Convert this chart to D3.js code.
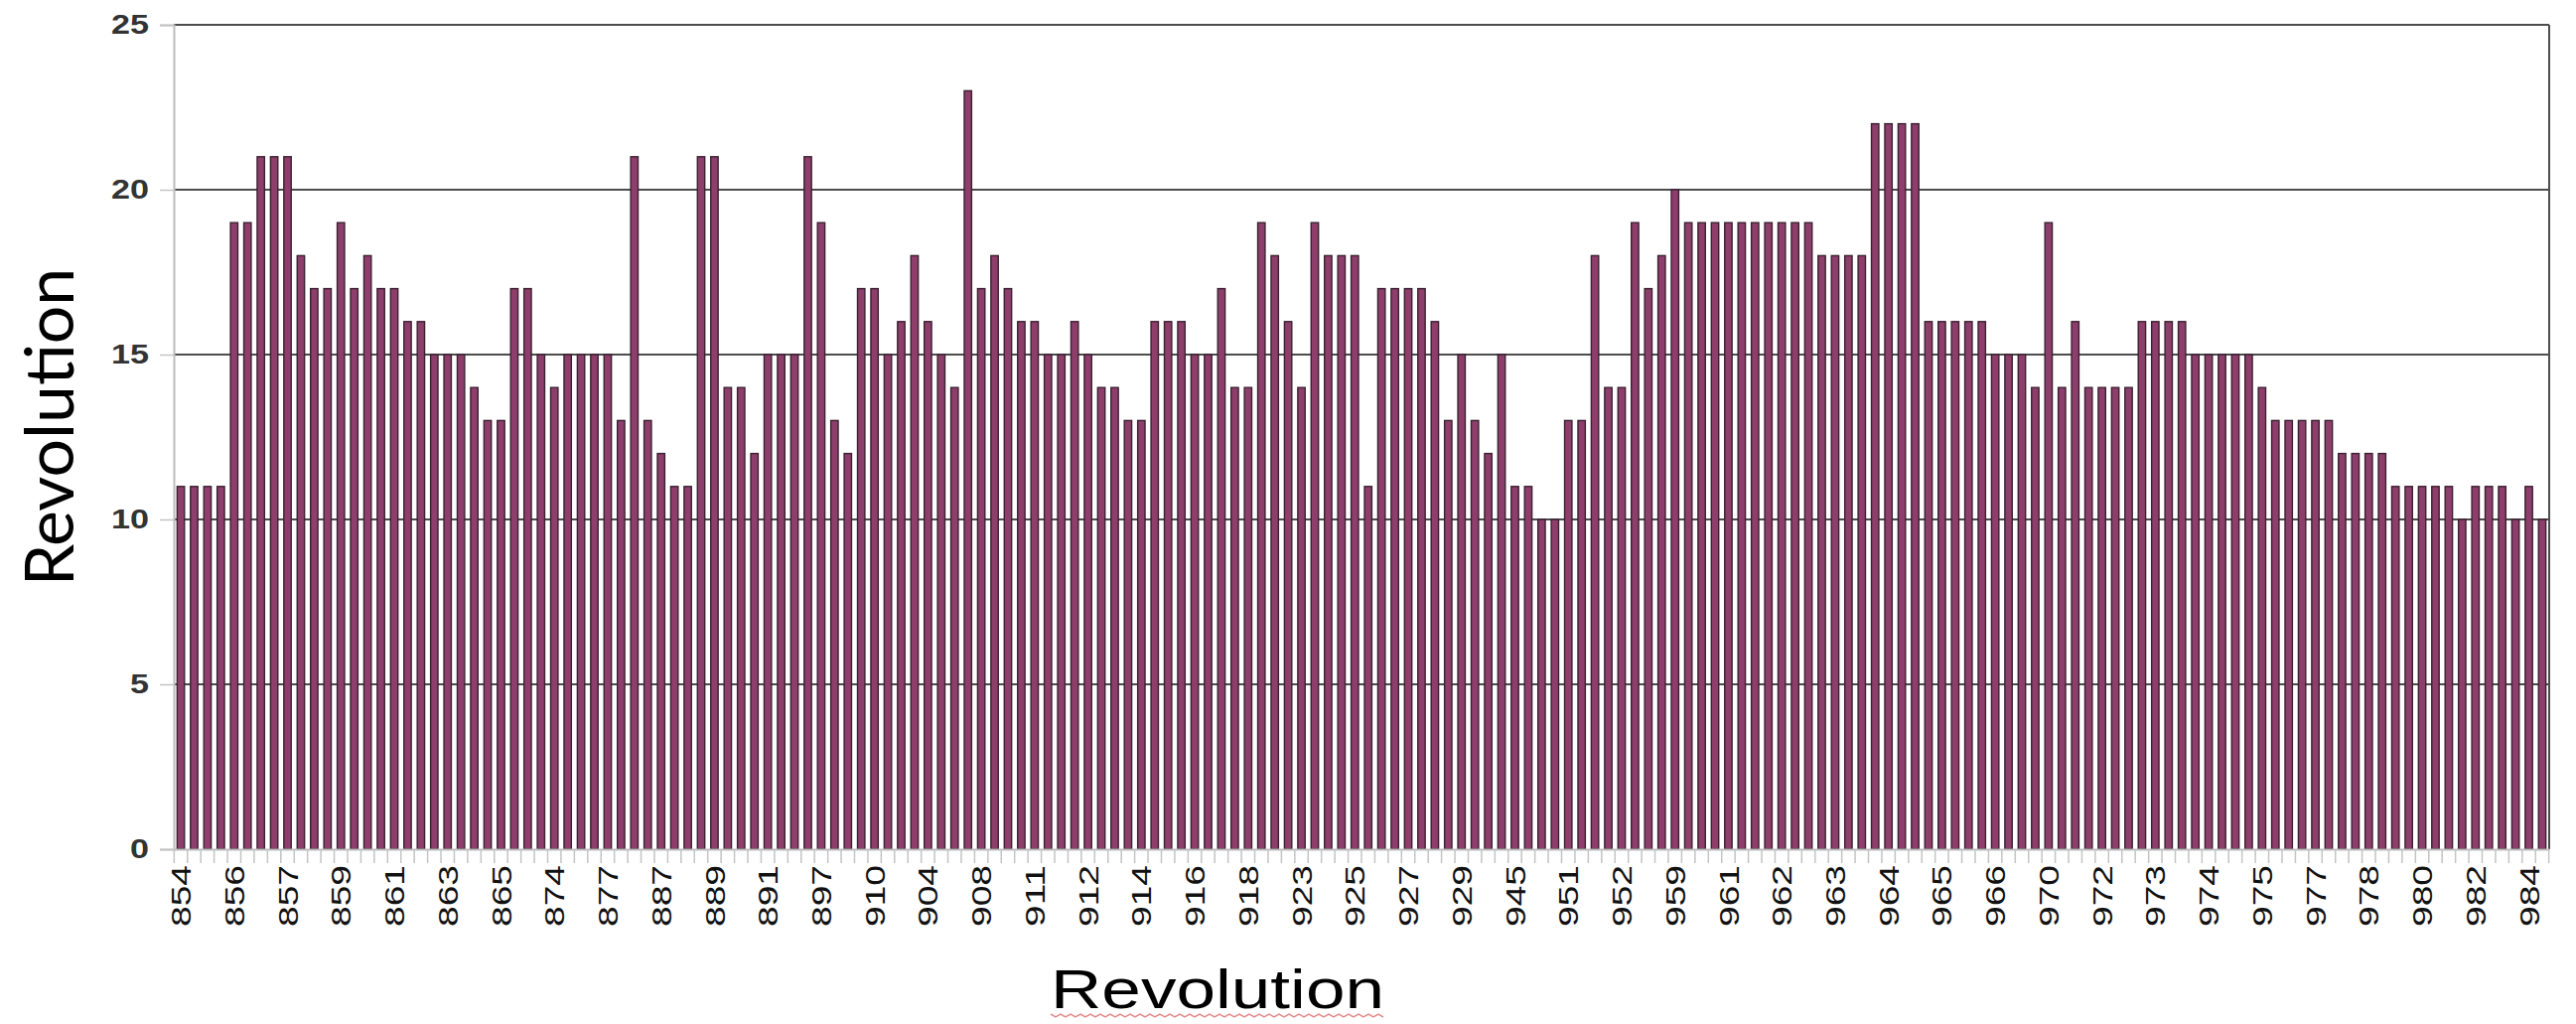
<!DOCTYPE html>
<html lang="en">
<head>
<meta charset="utf-8">
<title>Revolution</title>
<script src="https://d3js.org/d3.v7.min.js"></script>
<style>
  body { margin: 0; background: #fff; }
  svg { display: block; }
  .grid line, .frame { stroke: #4d4d4d; stroke-width: 2; }
  .axis .domain { stroke: #bdbdbd; stroke-width: 2; }
  .axis .tick line { stroke: #c4c4c4; stroke-width: 1.5; }
  .bar { fill: #8e3e6b; stroke: #3a2131; stroke-width: 1.4; }
</style>
</head>
<body>
<div id="vis"></div>
<script>
// one bar per entry
var values = [
  11,11,11,11,19,19,21,21,21,18,
  17,17,19,17,18,17,17,16,16,15,
  15,15,14,13,13,17,17,15,14,15,
  15,15,15,13,21,13,12,11,11,21,
  21,14,14,12,15,15,15,21,19,13,
  12,17,17,15,16,18,16,15,14,23,
  17,18,17,16,16,15,15,16,15,14,
  14,13,13,16,16,16,15,15,17,14,
  14,19,18,16,14,19,18,18,18,11,
  17,17,17,17,16,13,15,13,12,15,
  11,11,10,10,13,13,18,14,14,19,
  17,18,20,19,19,19,19,19,19,19,
  19,19,19,18,18,18,18,22,22,22,
  22,16,16,16,16,16,15,15,15,14,
  19,14,16,14,14,14,14,16,16,16,
  16,15,15,15,15,15,14,13,13,13,
  13,13,12,12,12,12,11,11,11,11,
  11,10,11,11,11,10,11,10
];

// a label under every 4th bar
var tickLabels = ["854","856","857","859","861","863","865","874","877","887",
  "889","891","897","910","904","908","911","912","914","916",
  "918","923","925","927","929","945","951","952","959","961",
  "962","963","964","965","966","970","972","973","974","975",
  "977","978","980","982","984"];
var labelEvery = 4;

var yTicks = [0, 5, 10, 15, 20, 25];

var width = 2594, height = 1031;
var margin = { left: 175, right: 27, top: 25, bottom: 176 };

var svg = d3.select("#vis").append("svg")
  .attr("width", width)
  .attr("height", height);

var x = d3.scaleBand()
  .domain(d3.range(values.length))
  .range([margin.left, width - margin.right])
  .paddingInner(0.45)
  .paddingOuter(0.25);

var y = d3.scaleLinear()
  .domain([0, 25])
  .range([height - margin.bottom, margin.top]);

var x0 = margin.left, x1 = width - margin.right;

// grid
svg.append("g").attr("class", "grid")
  .selectAll("line")
  .data(yTicks.filter(function(d){ return d > 0; }))
  .enter().append("line")
    .attr("x1", x0).attr("x2", x1)
    .attr("y1", function(d){ return y(d); })
    .attr("y2", function(d){ return y(d); });

svg.append("line").attr("class", "frame")
  .attr("x1", x1).attr("x2", x1)
  .attr("y1", y(0)).attr("y2", y(25));

// bars
svg.append("g")
  .selectAll("rect")
  .data(values)
  .enter().append("rect")
    .attr("class", "bar")
    .attr("x", function(d, i){ return x(i); })
    .attr("width", x.bandwidth())
    .attr("y", function(d){ return y(d); })
    .attr("height", function(d){ return y(0) - y(d); });

// y axis
var yAxis = svg.append("g")
  .attr("class", "axis")
  .attr("transform", "translate(" + x0 + ",0)")
  .call(d3.axisLeft(y).tickValues(yTicks).tickSize(14).tickPadding(11));

yAxis.selectAll("text")
  .attr("textLength", function(d){ return String(d).length * 19; })
  .attr("lengthAdjust", "spacingAndGlyphs")
  .style("font-family", "'Liberation Sans', Arial, sans-serif")
  .style("font-weight", "bold")
  .style("font-size", "27px")
  .style("fill", "#333");

// x axis: labels only, every 4th bar
var xAxis = svg.append("g")
  .attr("class", "axis")
  .attr("transform", "translate(0," + y(0) + ")")
  .call(d3.axisBottom(x)
    .tickValues(d3.range(0, values.length, labelEvery))
    .tickSize(0)
    .tickFormat(function(i){ return tickLabels[i / labelEvery]; }));

xAxis.selectAll("text")
  .attr("x", 0)
  .attr("y", 0)
  .attr("dy", "0.36em")
  .attr("transform", "translate(0,16) rotate(-90)")
  .attr("textLength", 62)
  .attr("lengthAdjust", "spacingAndGlyphs")
  .style("text-anchor", "end")
  .style("font-family", "'Liberation Sans', Arial, sans-serif")
  .style("font-size", "28px")
  .style("fill", "#111");

// small ticks between categories
var step = x.step();
svg.append("g").attr("class", "axis")
  .selectAll("line")
  .data(d3.range(values.length + 1))
  .enter().append("line")
    .style("stroke", "#c4c4c4").style("stroke-width", 1.5)
    .attr("x1", function(i){ return x(0) - step * x.paddingInner() / 2 + i * step; })
    .attr("x2", function(i){ return x(0) - step * x.paddingInner() / 2 + i * step; })
    .attr("y1", y(0)).attr("y2", y(0) + 14);

// axis titles
svg.append("text")
  .attr("transform", "translate(50," + 430 + ") rotate(-90)")
  .attr("dy", "0.35em")
  .style("text-anchor", "middle")
  .style("font-family", "Lato, 'Open Sans', sans-serif")
  .style("font-size", "68px")
  .style("fill", "#000")
  .text("Revolution");

var title = svg.append("text")
  .attr("x", 1226)
  .attr("y", 1015)
  .attr("textLength", 336)
  .attr("lengthAdjust", "spacingAndGlyphs")
  .style("text-anchor", "middle")
  .style("font-family", "'Liberation Sans', Arial, sans-serif")
  .style("font-size", "56px")
  .style("fill", "#000")
  .text("Revolution");

// spell-check squiggle under the x title
var tb = title.node().getBBox();
var wave = d3.range(0, Math.floor(tb.width / 5) + 1).map(function(k){
  return [tb.x + k * 5, 1021 + (k % 2 ? 3 : 0)];
});
svg.append("path")
  .attr("d", d3.line()(wave))
  .style("fill", "none")
  .style("stroke", "#e58a8a")
  .style("stroke-width", 1.5);
</script>
</body>
</html>
